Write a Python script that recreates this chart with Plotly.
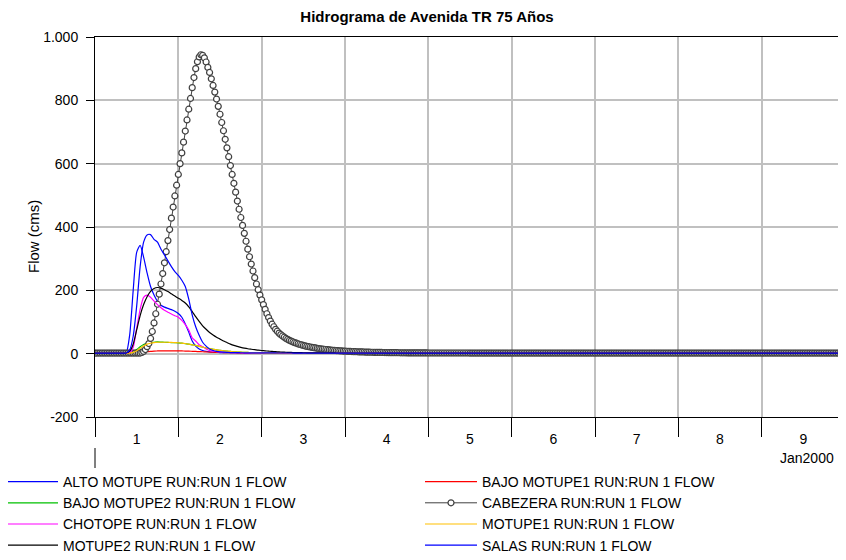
import pandas as pd
import plotly.graph_objects as go

START = pd.Timestamp("2000-01-01")

# hours after 1 Jan 2000 00:00 for the plain line series
# (hourly through the flood, then every 12 h on the flat tail)
FLOW_HOURS = list(range(0, 73)) + [84, 96, 108, 120, 132, 144, 156, 168, 180, 192, 204, 216]

ALTO_MOTUPE = [
    2, 2, 2, 2, 2, 2, 2, 2, 2, 3, 60, 200,
    320, 342, 305, 255, 212, 185, 165, 153, 147, 143, 139, 134,
    127, 115, 94, 68, 40, 24, 15, 10, 7, 5.5, 4.5, 4,
    3.6, 3.3, 3.1, 3, 2.9, 2.8, 2.7, 2.6, 2.5, 2.5, 2.4, 2.4,
    2.3, 2.3, 2.3, 2.2, 2.2, 2.2, 2.2, 2.1, 2.1, 2.1, 2.1, 2.1,
    2, 2, 2, 2, 2, 2, 2, 2, 2, 2, 2, 2,
    2, 2, 2, 2, 2, 2, 2, 2, 2, 2, 2, 2, 2,
]
BAJO_MOTUPE1 = [
    2, 2, 2, 2, 2, 2, 2, 2, 2, 2, 2, 2,
    2, 3, 4.5, 6, 7, 8, 8.5, 9, 9, 9, 9, 9,
    8.8, 8.5, 8.2, 8, 7.5, 7, 6.5, 6, 5.5, 5, 4.6, 4.2,
    3.9, 3.6, 3.3, 3.1, 2.9, 2.8, 2.7, 2.6, 2.5, 2.4, 2.3, 2.2,
    2.2, 2.1, 2.1, 2, 2, 2, 2, 2, 2, 2, 2, 2,
    2, 2, 2, 2, 2, 2, 2, 2, 2, 2, 2, 2,
    2, 2, 2, 2, 2, 2, 2, 2, 2, 2, 2, 2, 2,
]
BAJO_MOTUPE2 = [
    2, 2, 2, 2, 2, 2, 2, 2, 2, 2, 3, 6,
    13, 22, 29, 33, 35, 36, 37, 36.5, 36, 35.5, 35, 34.5,
    34, 33, 31.5, 30, 28, 26, 23, 21, 18, 16, 14, 12,
    10.5, 9, 8, 7, 6, 5.3, 4.7, 4.2, 3.8, 3.5, 3.2, 3,
    2.9, 2.8, 2.7, 2.6, 2.5, 2.4, 2.3, 2.3, 2.2, 2.2, 2.1, 2.1,
    2, 2, 2, 2, 2, 2, 2, 2, 2, 2, 2, 2,
    2, 2, 2, 2, 2, 2, 2, 2, 2, 2, 2, 2, 2,
]
CHOTOPE = [
    2, 2, 2, 2, 2, 2, 2, 2, 2, 2, 3, 20,
    80, 140, 178, 185, 178, 166, 155, 145, 137, 131, 125, 120,
    115, 105, 92, 75, 50, 40, 28, 22, 15, 10, 8, 6,
    5, 4.4, 4, 3.6, 3.3, 3.1, 2.9, 2.7, 2.6, 2.5, 2.4, 2.3,
    2.2, 2.2, 2.1, 2.1, 2.1, 2, 2, 2, 2, 2, 2, 2,
    2, 2, 2, 2, 2, 2, 2, 2, 2, 2, 2, 2,
    2, 2, 2, 2, 2, 2, 2, 2, 2, 2, 2, 2, 2,
]
MOTUPE1 = [
    2, 2, 2, 2, 2, 2, 2, 2, 2, 2, 2, 4,
    9, 17, 24, 30, 33, 35, 36, 36, 36, 36, 35.5, 35,
    34.5, 33, 32, 30, 28, 26, 23, 21, 18, 16, 14, 12,
    10.5, 9, 8, 7, 6, 5.3, 4.7, 4.2, 3.8, 3.5, 3.2, 3,
    2.9, 2.8, 2.7, 2.6, 2.5, 2.4, 2.3, 2.3, 2.2, 2.2, 2.1, 2.1,
    2, 2, 2, 2, 2, 2, 2, 2, 2, 2, 2, 2,
    2, 2, 2, 2, 2, 2, 2, 2, 2, 2, 2, 2, 2,
]
MOTUPE2 = [
    2, 2, 2, 2, 2, 2, 2, 2, 2, 2, 8, 30,
    75, 120, 155, 180, 197, 206, 209, 207, 202, 196, 189, 182,
    175, 168, 160, 148, 133, 117, 102, 88, 77, 67, 59, 52,
    46, 40, 35, 30, 26, 23, 20, 17.5, 15.5, 14, 12.5, 11,
    10, 9, 8, 7, 6.3, 5.6, 5, 4.5, 4.1, 3.7, 3.4, 3.1,
    2.9, 2.8, 2.7, 2.6, 2.5, 2.4, 2.3, 2.3, 2.2, 2.2, 2.1, 2.1,
    2.1, 2, 2, 2, 2, 2, 2, 2, 2, 2, 2, 2, 2,
]
SALAS = [
    2, 2, 2, 2, 2, 2, 2, 2, 2, 2, 12, 55,
    150, 275, 352, 375, 376, 361, 352, 330, 312, 293, 275, 259,
    247, 232, 212, 172, 122, 85, 58, 36, 24, 15, 10, 7,
    5.5, 4.6, 4, 3.6, 3.3, 3.1, 2.9, 2.8, 2.7, 2.6, 2.5, 2.4,
    2.3, 2.3, 2.2, 2.2, 2.2, 2.1, 2.1, 2.1, 2.1, 2, 2, 2,
    2, 2, 2, 2, 2, 2, 2, 2, 2, 2, 2, 2,
    2, 2, 2, 2, 2, 2, 2, 2, 2, 2, 2, 2, 2,
]

# CABEZERA is stored every 30 minutes (each row = 6 hours), 1 Jan 00:00 to 10 Jan 00:00
CABEZERA = [
    2, 2, 2, 2, 2, 2, 2, 2, 2, 2, 2, 2,
    2, 2, 2, 2, 2, 2, 2, 2, 2, 2, 2, 2,
    2, 2, 2, 4, 7, 13, 22, 32, 48, 70, 97, 126,
    156, 188, 220, 253, 287, 322, 357, 392, 428, 463, 498, 532,
    566, 600, 634, 668, 703, 738, 772, 806, 840, 872, 900, 922,
    937, 944, 942, 934, 921, 904, 888, 868, 847, 826, 804, 781,
    756, 730, 704, 677, 650, 622, 594, 566, 538, 510, 482, 456,
    430, 405, 380, 355, 330, 306, 283, 261, 240, 220, 202, 185,
    170, 155, 140, 126, 114, 103, 93, 85, 77, 71, 65, 60,
    56, 52, 48, 45, 42, 39.5, 37, 35, 33, 31, 29, 27.5,
    26, 24.5, 23, 22, 21, 20, 19, 18, 17, 16.2, 15.4, 14.6,
    13.9, 13.2, 12.5, 11.9, 11.3, 10.8, 10.3, 9.8, 9.4, 9, 8.6, 8.2,
    7.9, 7.6, 7.3, 7.0, 6.7, 6.5, 6.2, 6.0, 5.8, 5.6, 5.4, 5.2,
    5.0, 4.8, 4.7, 4.5, 4.4, 4.2, 4.1, 4.0, 3.9, 3.8, 3.7, 3.6,
    3.5, 3.4, 3.3, 3.2, 3.1, 3.0, 3.0, 2.9, 2.8, 2.8, 2.7, 2.7,
    2.6, 2.6, 2.5, 2.5, 2.4, 2.4, 2.3, 2.3, 2.3, 2.2, 2.2, 2.2,
    2.1, 2.1, 2.1, 2.1, 2.1, 2.1, 2.1, 2.1, 2.1, 2.1, 2.1, 2.1,
    2.1, 2.1, 2.1, 2.1, 2.1, 2.1, 2.1, 2.1, 2.1, 2.1, 2.1, 2.1,
    2, 2, 2, 2, 2, 2, 2, 2, 2, 2, 2, 2,
    2, 2, 2, 2, 2, 2, 2, 2, 2, 2, 2, 2,
    2, 2, 2, 2, 2, 2, 2, 2, 2, 2, 2, 2,
    2, 2, 2, 2, 2, 2, 2, 2, 2, 2, 2, 2,
    2, 2, 2, 2, 2, 2, 2, 2, 2, 2, 2, 2,
    2, 2, 2, 2, 2, 2, 2, 2, 2, 2, 2, 2,
    2, 2, 2, 2, 2, 2, 2, 2, 2, 2, 2, 2,
    2, 2, 2, 2, 2, 2, 2, 2, 2, 2, 2, 2,
    2, 2, 2, 2, 2, 2, 2, 2, 2, 2, 2, 2,
    2, 2, 2, 2, 2, 2, 2, 2, 2, 2, 2, 2,
    2, 2, 2, 2, 2, 2, 2, 2, 2, 2, 2, 2,
    2, 2, 2, 2, 2, 2, 2, 2, 2, 2, 2, 2,
    2, 2, 2, 2, 2, 2, 2, 2, 2, 2, 2, 2,
    2, 2, 2, 2, 2, 2, 2, 2, 2, 2, 2, 2,
    2, 2, 2, 2, 2, 2, 2, 2, 2, 2, 2, 2,
    2, 2, 2, 2, 2, 2, 2, 2, 2, 2, 2, 2,
    2, 2, 2, 2, 2, 2, 2, 2, 2, 2, 2, 2,
    2, 2, 2, 2, 2, 2, 2, 2, 2, 2, 2, 2,
    2,
]

Y_TICKS = [-200, 0, 200, 400, 600, 800, 1000]
Y_TICK_LABELS = ["-200", "0", "200", "400", "600", "800", "1.000"]

FONT = "Liberation Sans, Arial, sans-serif"

line_times = START + pd.to_timedelta(FLOW_HOURS, unit="h")
cab_times = pd.date_range(START, periods=len(CABEZERA), freq="30min")

series = [
    ("ALTO MOTUPE RUN:RUN 1 FLOW", ALTO_MOTUPE, "#0000ff"),
    ("BAJO MOTUPE1 RUN:RUN 1 FLOW", BAJO_MOTUPE1, "#ff0000"),
    ("BAJO MOTUPE2 RUN:RUN 1 FLOW", BAJO_MOTUPE2, "#00c000"),
    ("CABEZERA RUN:RUN 1 FLOW", CABEZERA, "#404040"),
    ("CHOTOPE RUN:RUN 1 FLOW", CHOTOPE, "#ff00ff"),
    ("MOTUPE1 RUN:RUN 1 FLOW", MOTUPE1, "#ffc000"),
    ("MOTUPE2 RUN:RUN 1 FLOW", MOTUPE2, "#000000"),
    ("SALAS RUN:RUN 1 FLOW", SALAS, "#0000ff"),
]

fig = go.Figure()
for name, values, color in series:
    if values is CABEZERA:
        fig.add_trace(go.Scatter(
            x=cab_times, y=values, name=name, mode="lines+markers",
            line=dict(color=color, width=1),
            marker=dict(symbol="circle", size=6, color="white",
                        line=dict(color=color, width=1.2)),
        ))
    else:
        fig.add_trace(go.Scatter(
            x=line_times, y=values, name=name, mode="lines",
            line=dict(color=color, width=1.2, shape="spline", smoothing=0.6),
        ))

# the page body keeps an 8 px margin, so the figure is 8 px smaller each way
fig.update_layout(
    width=838,
    height=552,
    paper_bgcolor="white",
    plot_bgcolor="white",
    font=dict(family=FONT, size=14, color="black"),
    margin=dict(l=87, r=1, t=29, b=143, autoexpand=False),
    title=dict(
        text="<b>Hidrograma de Avenida TR 75 Años</b>",
        x=0.5, xanchor="center", y=1 - 9 / 552, yanchor="middle",
        font=dict(family=FONT, size=15, color="black"),
    ),
    xaxis=dict(
        type="date",
        range=[START, START + pd.Timedelta(days=9)],
        tick0=START, dtick=86400000,
        tickformat="%-d", ticklabelmode="period",
        ticks="outside", ticklen=19, tickcolor="black", tickwidth=1,
        ticklabelstandoff=-10,
        showgrid=True, gridcolor="#c0c0c0", gridwidth=1.5,
        showline=True, linecolor="black", linewidth=1, mirror=True,
        zeroline=False,
        tickfont=dict(size=14),
    ),
    yaxis=dict(
        range=[-200, 1000],
        tickvals=Y_TICKS, ticktext=Y_TICK_LABELS,
        ticks="outside", ticklen=8, tickcolor="black", tickwidth=1,
        ticklabelstandoff=5,
        showgrid=True, gridcolor="#c0c0c0", gridwidth=1.5,
        showline=True, linecolor="black", linewidth=1, mirror=True,
        zeroline=False,
        tickfont=dict(size=14),
    ),
    legend=dict(
        orientation="h",
        x=(1 - 95) / 750, xanchor="left",
        y=-(466 - 417) / 380, yanchor="top",
        entrywidth=352,
        itemwidth=52,
        font=dict(family=FONT, size=14, color="black"),
        bgcolor="rgba(0,0,0,0)",
        traceorder="normal",
    ),
    showlegend=True,
)

fig.add_annotation(
    text="Flow (cms)", textangle=-90, showarrow=False,
    xref="paper", yref="paper", x=(33 - 95) / 750, y=(417 - 237) / 380,
    xanchor="center", yanchor="middle",
    font=dict(family=FONT, size=15, color="black"),
)
fig.add_annotation(
    text="Jan2000", showarrow=False,
    xref="paper", yref="paper", x=(807 - 95) / 750, y=(417 - 458) / 380,
    xanchor="center", yanchor="middle",
    font=dict(family=FONT, size=14, color="black"),
)
# longer month tick under the first day
fig.add_shape(
    type="line", xref="paper", yref="paper",
    x0=0, x1=0, y0=(417 - 448) / 380, y1=(417 - 468) / 380,
    line=dict(color="black", width=1),
)

fig.write_html("out.html")
